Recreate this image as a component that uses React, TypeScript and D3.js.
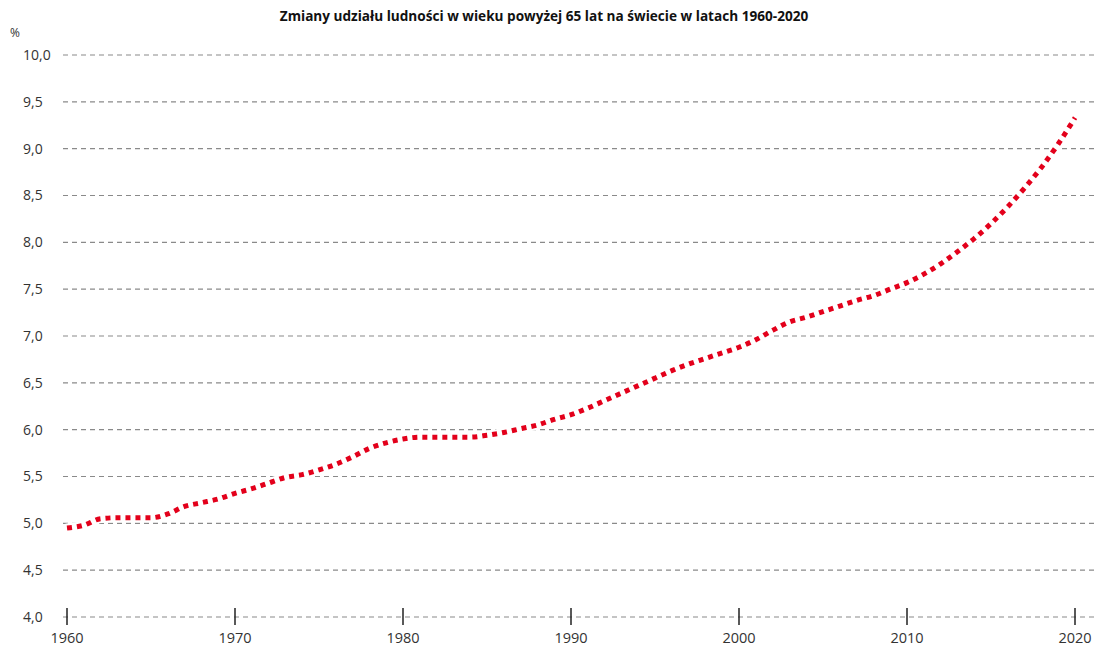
import React from "react";
import * as d3 from "d3";

// Udział ludności 65+ na świecie (%)
const years = d3.range(1960, 2021);
const share = [
  4.95, 4.98, 5.05, 5.06, 5.06, 5.06, 5.1, 5.18, 5.22, 5.26,
  5.32, 5.37, 5.43, 5.49, 5.52, 5.57, 5.63, 5.71, 5.8, 5.86,
  5.9, 5.92, 5.92, 5.92, 5.92, 5.94, 5.97, 6.01, 6.05, 6.11,
  6.16, 6.23, 6.31, 6.39, 6.47, 6.55, 6.63, 6.7, 6.76, 6.82,
  6.88, 6.96, 7.06, 7.15, 7.2, 7.26, 7.32, 7.38, 7.43, 7.5,
  7.57, 7.66, 7.77, 7.9, 8.04, 8.2, 8.38, 8.58, 8.8, 9.05,
  9.33,
];
const yTicks = [4, 4.5, 5, 5.5, 6, 6.5, 7, 7.5, 8, 8.5, 9, 9.5, 10];
const xTicks = [1960, 1970, 1980, 1990, 2000, 2010, 2020];

const title = "Zmiany udziału ludności w wieku powyżej 65 lat na świecie w latach 1960-2020";

const W = 1098;
const H = 648;

export default function App() {
  const x = d3.scaleLinear().domain([1960, 2020]).range([67, 1075]);
  const y = d3.scaleLinear().domain([4, 10]).range([617, 55]);
  const fmt = (v: number) => d3.format(".1f")(v).replace(".", ",");

  const points = years.map((yr, i) => [yr, share[i]] as [number, number]);
  const line = d3
    .line<[number, number]>()
    .x((d) => x(d[0]))
    .y((d) => y(d[1]))
    .curve(d3.curveMonotoneX);
  const path = line(points) || "";

  return (
    <svg
      width={W}
      height={H}
      style={{ position: "absolute", left: 0, top: 0, background: "#fff" }}
      fontFamily="'Open Sans', 'Noto Sans', sans-serif"
    >
      <text x={544} y={21} textAnchor="middle" fontSize={13.6} fontWeight="bold" fill="#111">
        {title}
      </text>
      <text x={10} y={37} fontSize={12} fill="#333">%</text>

      {yTicks.map((t) => (
        <g key={t}>
          <line
            x1={63}
            x2={1097}
            y1={y(t)}
            y2={y(t)}
            stroke="#8a8a8a"
            strokeWidth={1.2}
            strokeDasharray="5,4"
          />
          <text x={23} y={y(t)} dy="0.35em" textAnchor="start" fontSize={14} fill="#333">
            {fmt(t)}
          </text>
        </g>
      ))}

      {xTicks.map((t) => (
        <g key={t}>
          <line x1={x(t)} x2={x(t)} y1={608} y2={625} stroke="#222" strokeWidth={1.5} />
          <text x={x(t)} y={643} textAnchor="middle" fontSize={14.5} fill="#333">
            {t}
          </text>
        </g>
      ))}

      <path d={path} fill="none" stroke="#fff" strokeWidth={9} strokeLinecap="round" />
      <path
        d={path}
        fill="none"
        stroke="#e3001b"
        strokeWidth={5}
        strokeDasharray="5,5"
      />
    </svg>
  );
}
